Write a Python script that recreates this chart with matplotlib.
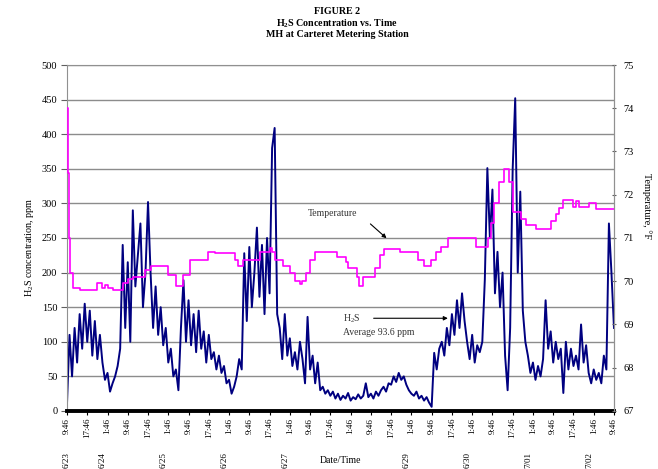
import numpy as np
import matplotlib
matplotlib.use("Agg")
import matplotlib.pyplot as plt

plt.rcParams["font.family"] = ["Liberation Serif", "DejaVu Serif"]
plt.rcParams["mathtext.default"] = "regular"

# H2S concentration, ppm, one reading per hour starting 6/23 9:46
h2s_ppm = [
    10, 110, 50, 120, 70, 140, 90, 155, 100, 145, 80, 130, 75, 110,
    70, 45, 55, 28, 40, 50, 65, 90, 240, 120, 215, 100, 290, 180, 225, 271, 150, 200, 302,
    200, 120, 180, 110, 150, 95, 120, 70, 90, 50, 60, 30, 120, 189, 100, 160, 95, 140, 85, 145, 90,
    115, 70, 110, 75, 85, 60, 80, 55, 65, 40, 45, 25, 35, 50, 75, 60,
    228, 130, 237, 150, 200, 265, 165, 240, 140, 250, 170, 380, 409, 140, 120, 75, 140, 80,
    105, 65, 85, 60, 100, 75, 40, 136, 60, 80, 40, 70, 30, 35, 25, 30, 22,
    28, 18, 25, 16, 22, 18, 26, 15, 20, 17, 24, 18, 22, 40, 20, 25, 18, 28, 22, 30,
    35, 28, 40, 38, 50, 42, 55, 45, 50, 38, 30, 25, 22, 28, 18, 22, 15, 20, 12, 6,
    84, 60, 90, 100, 80, 120, 95, 140, 110, 160, 120, 170, 130, 100, 75, 110, 70, 95, 85, 100, 190,
    351, 250, 320, 170, 230, 150, 200, 80, 30, 120, 350, 452, 200, 317, 145, 100, 80, 55, 70, 45,
    65, 50, 75, 160, 90, 115, 70, 100, 75, 90, 26, 100, 60, 90, 65, 80, 60, 125, 70, 95,
    55, 40, 60, 45, 55, 40, 80, 60, 271, 200, 120,
]

# temperature, deg F (hours since 6/23 9:46, step values)
temp_hours = [0, 0.4, 0.8, 1.2, 2.4, 5, 12, 14, 15, 16, 18, 22, 24, 26, 31, 33, 40, 43, 46, 48.5,
              55.8, 58.5, 66.5, 67.6, 69.6, 76.4, 80, 81, 82.3, 85.4, 88.2, 90.2, 92, 93, 94.2,
              96.1, 98, 106.8, 110, 111, 114.7, 115.5, 117, 121.8, 123.8, 125, 131.7, 138.5,
              140.8, 143.6, 145.6, 147.6, 150.3, 161.4, 166.2, 167.4, 168.5, 170.5, 172.5,
              174.5, 176, 179.2, 181.2, 185.1, 191, 193, 194.2, 195.8, 199.8, 201, 202, 206.1,
              208.9, 216]
temp_f = [74.0, 72.5, 71.0, 70.2, 69.85, 69.8, 69.95, 69.85, 69.92, 69.85, 69.8, 69.95, 70.05,
          70.1, 70.25, 70.35, 70.15, 69.9, 70.15, 70.5, 70.68, 70.65, 70.5, 70.35, 70.5, 70.68,
          70.78, 70.68, 70.5, 70.35, 70.2, 70.0, 69.93, 70.0, 70.2, 70.5, 70.68, 70.55, 70.45,
          70.3, 70.1, 69.9, 70.1, 70.3, 70.6, 70.75, 70.68, 70.5, 70.35, 70.5, 70.68, 70.8,
          71.0, 70.8, 71.0, 71.35, 71.8, 72.3, 72.6, 72.3, 71.6, 71.45, 71.3, 71.2, 71.4,
          71.55, 71.7, 71.88, 71.72, 71.85, 71.72, 71.8, 71.68, 71.68]

time_labels = ["9:46", "17:46", "1:46"] * 9 + ["9:46"]
date_labels = ["6/23", "6/24", "6/25", "6/26", "6/27", "6/29", "6/30", "7/01", "7/02"]
date_hours = [0, 14.23, 38.23, 62.23, 86.23, 134.23, 158.23, 182.23, 206.23]

hours = np.arange(len(h2s_ppm))

fig = plt.figure(figsize=(6.58, 4.69), dpi=100)
ax = fig.add_axes([0.1018, 0.1237, 0.8313, 0.7377])

ax.plot(hours, h2s_ppm, color="#000080", lw=1.4)
ax.set_xlim(0, 216)
ax.set_ylim(0, 500)
ax.set_yticks(np.arange(0, 501, 50))
ax.yaxis.grid(True, color="#8c8c8c", lw=1.0)
ax.set_axisbelow(True)
ax.tick_params(axis="y", labelsize=7.5, length=4, pad=3, color="#606060")
ax.set_xticks(np.arange(0, 217, 8))
ax.set_xticklabels(time_labels, rotation=90, fontsize=6.5)
ax.tick_params(axis="x", length=3, pad=2)
for s in ["left", "top", "right"]:
    ax.spines[s].set_color("#909090")
ax.spines["bottom"].set_linewidth(2.8)
ax.spines["bottom"].set_color("black")

ax2 = ax.twinx()
ax2.step(temp_hours, temp_f, where="post", color="#ff00ff", lw=1.2)
ax2.set_ylim(67, 75)
ax2.set_yticks(np.arange(67, 76, 1))
ax2.tick_params(axis="y", labelsize=7.5, length=3, direction="inout", pad=5, color="#606060")
ax2.spines["right"].set_color("#909090")
for s in ["left", "top", "bottom"]:
    ax2.spines[s].set_visible(False)

xt = ax.get_xaxis_transform()
for h, d in zip(date_hours, date_labels):
    ax.text(h, -0.118, d, transform=xt, rotation=90, ha="center", va="top", fontsize=6.5)
ax.text(108, -0.142, "Date/Time", transform=xt, ha="center", va="center", fontsize=7)

fig.text(0.045, 0.473, "H$_2$S concentration, ppm", rotation=90, ha="center", va="center", fontsize=7.3)
fig.text(0.983, 0.56, "Temperature, °F", rotation=270, ha="center", va="center", fontsize=7.3)

fig.text(0.512, 0.975, "FIGURE 2", ha="center", va="center", fontsize=7.2, fontweight="bold")
fig.text(0.512, 0.950, "H$_2$S Concentration vs. Time", ha="center", va="center", fontsize=7.2, fontweight="bold")
fig.text(0.512, 0.926, "MH at Carteret Metering Station", ha="center", va="center", fontsize=7.2, fontweight="bold")

ax.text(95, 285, "Temperature", ha="left", va="center", fontsize=7, color="#333333")
ax.annotate("", xy=(127, 247), xytext=(119, 273),
            arrowprops=dict(arrowstyle="-|>", color="black", lw=0.8, mutation_scale=6))
ax.text(109, 134, "H$_2$S", ha="left", va="center", fontsize=7, color="#333333")
ax.text(109, 113, "Average 93.6 ppm", ha="left", va="center", fontsize=7, color="#333333")
ax.annotate("", xy=(151.5, 134), xytext=(120, 134),
            arrowprops=dict(arrowstyle="-|>", color="black", lw=0.8, mutation_scale=6))

fig.savefig("out.png", dpi=100)
